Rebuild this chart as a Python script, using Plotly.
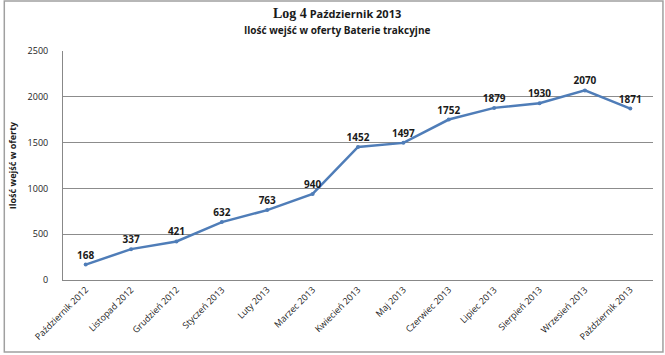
import plotly.graph_objects as go

months = ["Październik 2012", "Listopad 2012", "Grudzień 2012", "Styczeń 2013", "Luty 2013",
          "Marzec 2013", "Kwiecień 2013", "Maj 2013", "Czerwiec 2013", "Lipiec 2013",
          "Sierpień 2013", "Wrzesień 2013", "Październik 2013"]
visits = [168, 337, 421, 632, 763, 940, 1452, 1497, 1752, 1879, 1930, 2070, 1871]
y_ticks = [0, 500, 1000, 1500, 2000, 2500]

W, H = 665, 355
L, R, T, B = 60, 12, 51, 75
pw, ph = W - L - R, H - T - B

fig = go.Figure()
fig.add_trace(go.Scatter(
    x=months, y=visits, mode="lines+markers+text",
    line=dict(color="#4F7DB8", width=2.5),
    marker=dict(size=4, color="#4F7DB8"),
    text=[str(v) for v in visits], textposition="top center",
    textfont=dict(family="Open Sans", size=10, color="#1a1a1a", weight="bold"),
    cliponaxis=False, showlegend=False,
))

fig.update_layout(
    width=W, height=H, margin=dict(l=L, r=R, t=T, b=B),
    paper_bgcolor="white", plot_bgcolor="white",
    xaxis=dict(type="category", range=[-0.5, len(months) - 0.5], tickangle=-45,
               tickfont=dict(family="Open Sans", size=9, color="#222"),
               showgrid=False, showline=True, linecolor="#888", linewidth=1,
               ticks="", fixedrange=True),
    yaxis=dict(range=[0, 2500], tickvals=y_ticks, ticktext=[str(t) for t in y_ticks],
               tickfont=dict(family="Open Sans", size=9, color="#222"),
               showgrid=True, gridcolor="#8c8c8c", gridwidth=1,
               showline=True, linecolor="#888", linewidth=1, zeroline=False,
               ticks="", ticklabelstandoff=12,
               title=dict(text="<b>Ilość wejść w oferty</b>", standoff=9,
                          font=dict(family="Open Sans", size=9, color="#1a1a1a"))),
    annotations=[
        dict(text="<b><span style='font-family:Liberation Serif;font-size:14px'>Log 4</span> Październik 2013</b>",
             xref="paper", yref="paper", x=0.465, y=1 + (T - 14) / ph, yanchor="middle",
             showarrow=False, font=dict(family="Open Sans", size=11, color="#1a1a1a")),
        dict(text="<b>Ilość wejść w oferty Baterie trakcyjne</b>",
             xref="paper", yref="paper", x=0.465, y=1 + (T - 30) / ph, yanchor="middle",
             showarrow=False, font=dict(family="Open Sans", size=10, color="#1a1a1a")),
    ],
    shapes=[dict(type="rect", xref="paper", yref="paper",
                 x0=(1 - L) / pw, x1=(663 - L) / pw,
                 y0=-(352 - (H - B)) / ph, y1=1 + (T - 1) / ph,
                 line=dict(color="#a0a0a0", width=1.5))],
)

fig.write_html("out.html")
